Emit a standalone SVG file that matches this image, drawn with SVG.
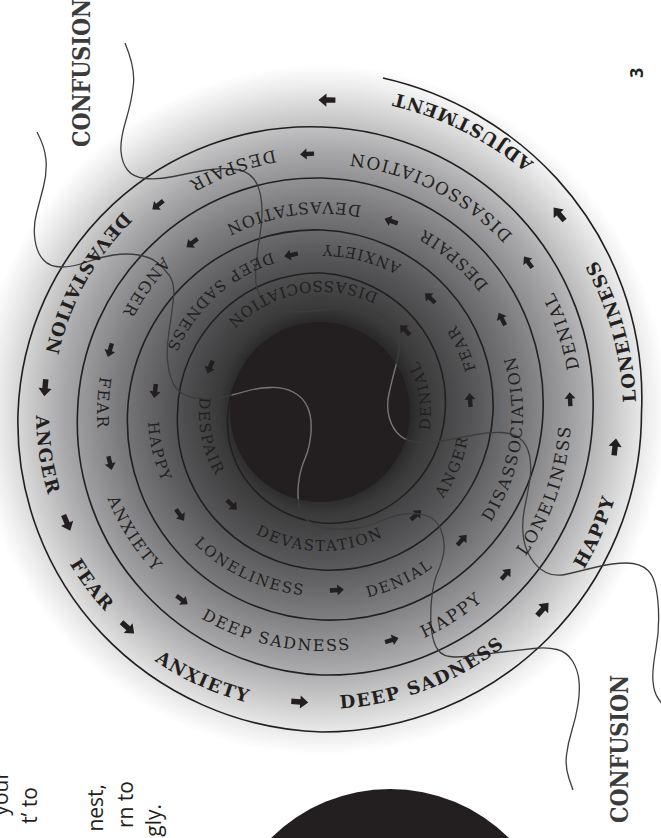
<svg xmlns="http://www.w3.org/2000/svg" xmlns:xlink="http://www.w3.org/1999/xlink" width="661" height="838" viewBox="0 0 661 838">
<defs>
<style>
.w{font-family:'DejaVu Serif',serif;fill:#231f20}
.s15{font-size:15px;letter-spacing:1.8px}
.s16{font-size:16px;letter-spacing:1.8px}
.s17{font-size:17px;letter-spacing:2px}
.s18{font-size:18px;font-weight:bold;letter-spacing:1.5px}
.ln{fill:none;stroke:#231f20;stroke-width:1.6}
.th{fill:none;stroke:#3d3d3d;stroke-width:1.3}
.thl{fill:none;stroke:#767676;stroke-width:1.3}
.cf{font-family:'DejaVu Serif',serif;font-weight:bold;font-size:24px;fill:#3b3b3b}
.p{font-family:'Open Sans',sans-serif;font-size:21px;fill:#231f20}
.ar{fill:#231f20}
</style>
<radialGradient id="g" gradientUnits="userSpaceOnUse" cx="322" cy="410" r="345">
<stop offset="0" stop-color="#1e1c1d"/>
<stop offset="0.26" stop-color="#2b2a2b"/>
<stop offset="0.30" stop-color="#3a3a3b"/>
<stop offset="0.45" stop-color="#58585a"/>
<stop offset="0.6" stop-color="#7d7d7f"/>
<stop offset="0.75" stop-color="#a8a8aa"/>
<stop offset="0.86" stop-color="#cfcfd0"/>
<stop offset="0.94" stop-color="#ececec"/>
<stop offset="1" stop-color="#ffffff"/>
</radialGradient>
<clipPath id="disc"><circle cx="320" cy="412" r="90"/></clipPath>
<path id="ar" class="ar" d="M-7,0 L-0.5,-5.5 L-0.5,-2.2 L7,-2.2 L7,2.2 L-0.5,2.2 L-0.5,5.5 Z"/>
<path id="arb" class="ar" d="M-8.5,0 L-0.5,-6.6 L-0.5,-2.7 L8.5,-2.7 L8.5,2.7 L-0.5,2.7 L-0.5,6.6 Z"/>
<path id="c109" d="M0,109 A109,109 0 1 0 0,-109 A109,109 0 1 0 0,109"/>
<path id="c132" d="M0,132 A132,132 0 1 0 0,-132 A132,132 0 1 0 0,132"/>
<path id="c123" d="M0,123 A123,123 0 1 0 0,-123 A123,123 0 1 0 0,123"/>
<path id="c138" d="M0,138 A138,138 0 1 0 0,-138 A138,138 0 1 0 0,138"/>
<path id="c148" d="M0,148 A148,148 0 1 0 0,-148 A148,148 0 1 0 0,148"/>
<path id="c160" d="M0,160 A160,160 0 1 0 0,-160 A160,160 0 1 0 0,160"/>
<path id="c168" d="M0,168 A168,168 0 1 0 0,-168 A168,168 0 1 0 0,168"/>
<path id="c174" d="M0,174 A174,174 0 1 0 0,-174 A174,174 0 1 0 0,174"/>
<path id="c183" d="M0,183 A183,183 0 1 0 0,-183 A183,183 0 1 0 0,183"/>
<path id="c190" d="M0,190 A190,190 0 1 0 0,-190 A190,190 0 1 0 0,190"/>
<path id="c201" d="M0,201 A201,201 0 1 0 0,-201 A201,201 0 1 0 0,201"/>
<path id="c210" d="M0,210 A210,210 0 1 0 0,-210 A210,210 0 1 0 0,210"/>
<path id="c211" d="M0,211 A211,211 0 1 0 0,-211 A211,211 0 1 0 0,211"/>
<path id="c223" d="M0,223 A223,223 0 1 0 0,-223 A223,223 0 1 0 0,223"/>
<path id="c225" d="M0,225 A225,225 0 1 0 0,-225 A225,225 0 1 0 0,225"/>
<path id="c231" d="M0,231 A231,231 0 1 0 0,-231 A231,231 0 1 0 0,231"/>
<path id="c238" d="M0,238 A238,238 0 1 0 0,-238 A238,238 0 1 0 0,238"/>
<path id="c247" d="M0,247 A247,247 0 1 0 0,-247 A247,247 0 1 0 0,247"/>
<path id="c249" d="M0,249 A249,249 0 1 0 0,-249 A249,249 0 1 0 0,249"/>
<path id="c261" d="M0,261 A261,261 0 1 0 0,-261 A261,261 0 1 0 0,261"/>
<path id="c267" d="M0,267 A267,267 0 1 0 0,-267 A267,267 0 1 0 0,267"/>
<path id="c283" d="M0,283 A283,283 0 1 0 0,-283 A283,283 0 1 0 0,283"/>
<path id="c286" d="M0,286 A286,286 0 1 0 0,-286 A286,286 0 1 0 0,286"/>
<path id="c294" d="M0,294 A294,294 0 1 0 0,-294 A294,294 0 1 0 0,294"/>
<path id="c296" d="M0,296 A296,296 0 1 0 0,-296 A296,296 0 1 0 0,296"/>
<path id="c299" d="M0,299 A299,299 0 1 0 0,-299 A299,299 0 1 0 0,299"/>
<path id="c305" d="M0,305 A305,305 0 1 0 0,-305 A305,305 0 1 0 0,305"/>
<path id="c314" d="M0,314 A314,314 0 1 0 0,-314 A314,314 0 1 0 0,314"/>
<path id="c328" d="M0,328 A328,328 0 1 0 0,-328 A328,328 0 1 0 0,328"/>
<path id="thA" d="M125,43 Q135,67 133.5,83.5 Q132,100 126,120 Q120,140 121,151.5 Q122,163 127.5,170 Q133,177 145,178.5 Q157,180 173.5,176.5 Q190,173 203.5,170.5 Q217,168 232,169 Q247,170 253.5,178.5 Q260,187 261.5,202 Q263,217 260,235 Q257,253 256,266.5 Q255,280 256.5,286.5 Q258,293 263,300 Q268,307 279,310 Q290,313 306.5,311.5 Q323,310 336.5,308.5 Q350,307 363.5,309.5 Q377,312 386,318.5 Q395,325 398,336 Q401,347 396.5,363.5 Q392,380 389,393.5 Q386,407 389.5,418.5 Q393,430 400.5,436 Q408,442 420,442.5 Q432,443 447.5,440 Q463,437 476.5,434.5 Q490,432 501.5,432.5 Q513,433 520,438.5 Q527,444 529.5,455.5 Q532,467 529.5,482 Q527,497 524.5,508.5 Q522,520 523,533.5 Q524,547 530.5,557.5 Q537,568 546,572.5 Q555,577 567.5,574 Q580,571 596.5,567 Q613,563 626.5,563 Q640,563 648,570.5 Q656,578 658,602.5 Q660,627 656,648.5 Q652,670 653,681.5 Q654,693 658.5,699 L663,705"/>
<path id="thB" d="M37,132 Q45,147 46,160 Q47,173 43.5,186.5 Q40,200 36.5,213.5 Q33,227 35,240 Q37,253 43.5,260 Q50,267 61.5,267 Q73,267 86.5,262 Q100,257 113.5,255 Q127,253 138.5,255 Q150,257 156.5,262 Q163,267 169,275 Q175,283 173.5,298 Q172,313 169,331.5 Q166,350 168,365 Q170,380 176,388 Q182,396 196,398 Q210,400 221.5,397.5 Q233,395 245,391.5 Q257,388 270,387.5 Q283,387 293,392 Q303,397 307.5,407 Q312,417 311,432 Q310,447 305,458.5 Q300,470 298.5,483.5 Q297,497 299.5,507 Q302,517 309.5,522 Q317,527 330,528.5 Q343,530 355,528.5 Q367,527 382,520.5 Q397,514 408.5,513.5 Q420,513 428.5,516.5 Q437,520 441,530 Q445,540 444,550 Q443,560 438,571.5 Q433,583 431.5,600 Q430,617 431.5,630 Q433,643 438,650 Q443,657 455,657 Q467,657 480,655 Q493,653 506.5,651.5 Q520,650 533.5,648.5 Q547,647 557,649.5 Q567,652 572.5,661 Q578,670 579,681 Q580,692 578,704.5 Q576,717 572,730 Q568,743 566.5,755 Q565,767 569,778.5 L573,790"/>
</defs>

<rect width="661" height="838" fill="#ffffff"/>
<circle id="glow" cx="322" cy="410" r="345" fill="url(#g)"/>

<g id="connectors">
<path id="spiral" class="ln" d="M383,78 A336,336 0 0 1 556.6,178.4 A325.6,325.6 0 0 1 641.5,413 A319.4,319.4 0 0 1 547.7,638.7 A319.1,319.1 0 0 1 322,732 A315.4,315.4 0 0 1 101.6,633.4 A307.9,307.9 0 0 1 18,413 A299.6,299.6 0 0 1 113.2,204.2 A290.6,290.6 0 0 1 322,127 A282.4,282.4 0 0 1 519.1,215.9 A274.9,274.9 0 0 1 593,413 A268.6,268.6 0 0 1 510.3,601.3 A264.1,264.1 0 0 1 322,675 A257.4,257.4 0 0 1 143.3,591.7 A248.6,248.6 0 0 1 77.5,413 A241.9,241.9 0 0 1 152.8,243.8 A237.1,237.1 0 0 1 322,178 A231.9,231.9 0 0 1 483.8,251.3 A224.9,224.9 0 0 1 543,413 A217.1,217.1 0 0 1 472.8,563.8 A210.1,210.1 0 0 1 322,620 A203.9,203.9 0 0 1 180,555 A197.6,197.6 0 0 1 127.5,413 A191.4,191.4 0 0 1 188.9,279.9 A185.6,185.6 0 0 1 322,230 A179.9,179.9 0 0 1 447,288 A173.9,173.9 0 0 1 493,413 A167.1,167.1 0 0 1 437.4,528.4 A160.1,160.1 0 0 1 322,570 A153.9,153.9 0 0 1 215.4,519.6 A147.6,147.6 0 0 1 177.5,413 A143.5,143.5 0 0 1 221.2,312.2 A141.3,141.3 0 0 1 322,273 A136,136 0 0 1 415.3,319.7 A127.5,127.5 0 0 1 445,413 A119.5,119.5 0 0 1 404,495 A113,113 0 0 1 322,523 A106,106 0 0 1 249.9,485.1 A98,98 0 0 1 228,413 A91.5,91.5 0 0 1 259.1,350.1"/>
<circle id="core" cx="320" cy="412" r="90" fill="#231f20"/>
<g id="arrows" transform="translate(322 413)">
<use href="#ar" transform="rotate(45) translate(0 -117.4)"/>
<use href="#ar" transform="rotate(292.3) translate(0 -121)"/>
<use href="#ar" transform="rotate(224.4) translate(0 -128.7)"/>
<use href="#ar" transform="rotate(137.3) translate(0 -138.7)"/>
<use href="#ar" transform="rotate(85) translate(0 -148.6)"/>
<use href="#ar" transform="rotate(43.2) translate(0 -157.8)"/>
<use href="#ar" transform="rotate(348.9) translate(0 -161)"/>
<use href="#ar" transform="rotate(277.5) translate(0 -168.4)"/>
<use href="#ar" transform="rotate(234.3) translate(0 -174.8)"/>
<use href="#ar" transform="rotate(175.2) translate(0 -177.6)"/>
<use href="#ar" transform="rotate(132.2) translate(0 -189)"/>
<use href="#ar" transform="rotate(62.4) translate(0 -203)"/>
<use href="#ar" transform="rotate(19.8) translate(0 -204)"/>
<use href="#ar" transform="rotate(322.6) translate(0 -214)"/>
<use href="#ar" transform="rotate(286.5) translate(0 -221.2)"/>
<use href="#ar" transform="rotate(256.7) translate(0 -217.8)"/>
<use href="#ar" transform="rotate(216.8) translate(0 -233.6)"/>
<use href="#ar" transform="rotate(162.9) translate(0 -237.5)"/>
<use href="#ar" transform="rotate(131.2) translate(0 -244.5)"/>
<use href="#ar" transform="rotate(86.8) translate(0 -248.4)"/>
<use href="#ar" transform="rotate(53.8) translate(0 -255.4)"/>
<use href="#ar" transform="rotate(356.7) translate(0 -259.4)"/>
<use href="#ar" transform="rotate(321.7) translate(0 -264.9)"/>
<use href="#arb" transform="rotate(275.2) translate(0 -278.1)"/>
<use href="#arb" transform="rotate(246.7) translate(0 -277.7)"/>
<use href="#arb" transform="rotate(222.1) translate(0 -289.6)"/>
<use href="#arb" transform="rotate(184.4) translate(0 -289.8)"/>
<use href="#arb" transform="rotate(131.6) translate(0 -295.4)"/>
<use href="#arb" transform="rotate(96.6) translate(0 -295)"/>
<use href="#arb" transform="rotate(50) translate(0 -309.5)"/>
<use href="#arb" transform="rotate(0.9) translate(0 -313)"/>
</g>
<use href="#thA" class="th"/>
<use href="#thB" class="th"/>
<g clip-path="url(#disc)">
<use href="#thA" class="thl"/>
<use href="#thB" class="thl"/>
</g>
</g>

<g id="n-denial-1" transform="translate(322 413) rotate(80)"><text class="w s15" text-anchor="middle"><textPath href="#c109" startOffset="50%">DENIAL</textPath></text></g>
<g id="n-disassociation-1" transform="translate(322 413) rotate(349.5)"><text class="w s15" text-anchor="middle"><textPath href="#c132" startOffset="50%">DISASSOCIATION</textPath></text></g>
<g id="n-despair-1" transform="translate(322 413) rotate(258.2)"><text class="w s15" text-anchor="middle"><textPath href="#c123" startOffset="50%">DESPAIR</textPath></text></g>
<g id="n-devastation-1" transform="translate(322 413) rotate(181)"><text class="w s15" text-anchor="middle"><textPath href="#c138" startOffset="50%">DEVASTATION</textPath></text></g>
<g id="n-anger-1" transform="translate(322 413) rotate(112.2)"><text class="w s15" text-anchor="middle"><textPath href="#c148" startOffset="50%">ANGER</textPath></text></g>
<g id="n-fear-1" transform="translate(322 413) rotate(65.2)"><text class="w s15" text-anchor="middle"><textPath href="#c160" startOffset="50%">FEAR</textPath></text></g>
<g id="n-anxiety-1" transform="translate(322 413) rotate(14)"><text class="w s15" text-anchor="middle"><textPath href="#c168" startOffset="50%">ANXIETY</textPath></text></g>
<g id="n-deepsadness-1" transform="translate(322 413) rotate(317.5)"><text class="w s15" text-anchor="middle"><textPath href="#c168" startOffset="50%">DEEP SADNESS</textPath></text></g>
<g id="n-happy-1" transform="translate(322 413) rotate(256.6)"><text class="w s15" text-anchor="middle"><textPath href="#c174" startOffset="50%">HAPPY</textPath></text></g>
<g id="n-loneliness-1" transform="translate(322 413) rotate(205)"><text class="w s15" text-anchor="middle"><textPath href="#c183" startOffset="50%">LONELINESS</textPath></text></g>
<g id="n-denial-2" transform="translate(322 413) rotate(155)"><text class="w s15" text-anchor="middle"><textPath href="#c190" startOffset="50%">DENIAL</textPath></text></g>
<g id="n-disassociation-2" transform="translate(322 413) rotate(98)"><text class="w s16" text-anchor="middle"><textPath href="#c201" startOffset="50%">DISASSOCIATION</textPath></text></g>
<g id="n-despair-2" transform="translate(322 413) rotate(40.6)"><text class="w s16" text-anchor="middle"><textPath href="#c210" startOffset="50%">DESPAIR</textPath></text></g>
<g id="n-devastation-2" transform="translate(322 413) rotate(351.6)"><text class="w s16" text-anchor="middle"><textPath href="#c211" startOffset="50%">DEVASTATION</textPath></text></g>
<g id="n-anger-2" transform="translate(322 413) rotate(305.4)"><text class="w s16" text-anchor="middle"><textPath href="#c223" startOffset="50%">ANGER</textPath></text></g>
<g id="n-fear-2" transform="translate(322 413) rotate(272.6)"><text class="w s16" text-anchor="middle"><textPath href="#c225" startOffset="50%">FEAR</textPath></text></g>
<g id="n-anxiety-2" transform="translate(322 413) rotate(237.2)"><text class="w s16" text-anchor="middle"><textPath href="#c231" startOffset="50%">ANXIETY</textPath></text></g>
<g id="n-deepsadness-2" transform="translate(322 413) rotate(191.7)"><text class="w s16" text-anchor="middle"><textPath href="#c238" startOffset="50%">DEEP SADNESS</textPath></text></g>
<g id="n-happy-2" transform="translate(322 413) rotate(147.4)"><text class="w s17" text-anchor="middle"><textPath href="#c247" startOffset="50%">HAPPY</textPath></text></g>
<g id="n-loneliness-2" transform="translate(322 413) rotate(109)"><text class="w s17" text-anchor="middle"><textPath href="#c249" startOffset="50%">LONELINESS</textPath></text></g>
<g id="n-denial-3" transform="translate(322 413) rotate(71.1)"><text class="w s17" text-anchor="middle"><textPath href="#c261" startOffset="50%">DENIAL</textPath></text></g>
<g id="n-disassociation-3" transform="translate(322 413) rotate(26.5)"><text class="w s17" text-anchor="middle"><textPath href="#c261" startOffset="50%">DISASSOCIATION</textPath></text></g>
<g id="n-despair-3" transform="translate(322 413) rotate(339.8)"><text class="w s17" text-anchor="middle"><textPath href="#c267" startOffset="50%">DESPAIR</textPath></text></g>
<g id="n-devastation-3" transform="translate(322 413) rotate(298.8)"><text class="w s18" text-anchor="middle"><textPath href="#c283" startOffset="50%">DEVASTATION</textPath></text></g>
<g id="n-anger-3" transform="translate(322 413) rotate(261.3)"><text class="w s18" text-anchor="middle"><textPath href="#c286" startOffset="50%">ANGER</textPath></text></g>
<g id="n-fear-3" transform="translate(322 413) rotate(233.2)"><text class="w s18" text-anchor="middle"><textPath href="#c294" startOffset="50%">FEAR</textPath></text></g>
<g id="n-anxiety-3" transform="translate(322 413) rotate(204.2)"><text class="w s18" text-anchor="middle"><textPath href="#c299" startOffset="50%">ANXIETY</textPath></text></g>
<g id="n-deepsadness-3" transform="translate(322 413) rotate(159.1)"><text class="w s18" text-anchor="middle"><textPath href="#c296" startOffset="50%">DEEP SADNESS</textPath></text></g>
<g id="n-happy-3" transform="translate(322 413) rotate(113.5)"><text class="w s18" text-anchor="middle"><textPath href="#c305" startOffset="50%">HAPPY</textPath></text></g>
<g id="n-loneliness-3" transform="translate(322 413) rotate(74.3)"><text class="w s18" text-anchor="middle"><textPath href="#c314" startOffset="50%">LONELINESS</textPath></text></g>
<g id="n-adjustment" transform="translate(322 413) rotate(26.4)"><text class="w s18" text-anchor="middle"><textPath href="#c328" startOffset="50%">ADJUSTMENT</textPath></text></g>

<g id="n-confusion-top"><text class="cf" transform="translate(90 147) rotate(-90)" textLength="148" lengthAdjust="spacingAndGlyphs">CONFUSION</text></g>
<g id="n-confusion-bottom"><text class="cf" transform="translate(628 823) rotate(-90)" textLength="148" lengthAdjust="spacingAndGlyphs">CONFUSION</text></g>

<g id="page-number"><text transform="translate(643 78) rotate(-90)" style="font-family:'Open Sans',sans-serif;font-weight:bold;font-size:18px;fill:#231f20">3</text></g>

<g id="body-text" class="p">
<text transform="translate(8 771) rotate(-90)" text-anchor="end">your</text>
<text transform="translate(37 787) rotate(-90)" text-anchor="end">t’ to</text>
<text transform="translate(103 784) rotate(-90)" text-anchor="end">nest,</text>
<text transform="translate(133 781) rotate(-90)" text-anchor="end">rn to</text>
<text transform="translate(161 804) rotate(-90)" text-anchor="end">gly.</text>
</g>

<circle id="callout" cx="390" cy="958" r="169" fill="#231f20"/>
</svg>
